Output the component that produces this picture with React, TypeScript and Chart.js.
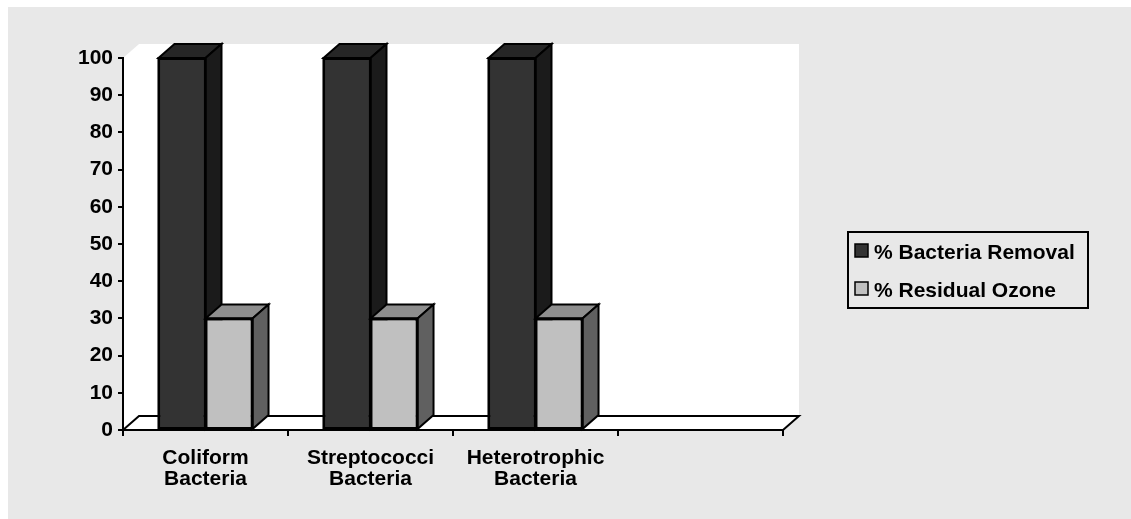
import React, { useEffect, useRef } from 'react';
import { Chart, registerables } from 'chart.js';

Chart.register(...registerables);

const categories: (string | string[])[] = [
  ['Coliform', 'Bacteria'],
  ['Streptococci', 'Bacteria'],
  ['Heterotrophic', 'Bacteria'],
  '',
];
const seriesNames = ['% Bacteria Removal', '% Residual Ozone'];
const bacteriaRemoval = [100, 100, 100, null];
const residualOzone = [30, 30, 30, null];
const yTicks = [0, 10, 20, 30, 40, 50, 60, 70, 80, 90, 100];

const FONT = "'Liberation Sans', Arial, Helvetica, sans-serif";
const DX = 16;
const DY = 14;
const BG = '#e8e8e8';
const faces = [
  { front: '#333333', top: '#262626', side: '#1b1b1b' },
  { front: '#c0c0c0', top: '#8e8e8e', side: '#606060' },
];

function poly(ctx: CanvasRenderingContext2D, pts: number[][]) {
  ctx.beginPath();
  ctx.moveTo(pts[0][0], pts[0][1]);
  for (let i = 1; i < pts.length; i++) ctx.lineTo(pts[i][0], pts[i][1]);
  ctx.closePath();
}

const threeD = {
  id: 'threeD',
  beforeDraw(chart: any) {
    const { ctx, chartArea: a, width, height } = chart;
    ctx.save();
    ctx.fillStyle = BG;
    ctx.fillRect(0, 0, width, height);
    ctx.fillStyle = '#ffffff';
    // back wall
    ctx.fillRect(a.left + DX, a.top - DY, a.right - a.left, a.bottom - a.top);
    // side wall
    poly(ctx, [
      [a.left, a.top],
      [a.left + DX, a.top - DY],
      [a.left + DX, a.bottom - DY],
      [a.left, a.bottom],
    ]);
    ctx.fill();
    // floor
    poly(ctx, [
      [a.left, a.bottom],
      [a.left + DX, a.bottom - DY],
      [a.right + DX, a.bottom - DY],
      [a.right, a.bottom],
    ]);
    ctx.fill();
    ctx.strokeStyle = '#000';
    ctx.lineWidth = 2;
    ctx.lineJoin = 'miter';
    ctx.stroke();
    ctx.restore();
  },
  afterDatasetsDraw(chart: any) {
    const { ctx } = chart;
    ctx.save();
    chart.data.datasets.forEach((ds: any, di: number) => {
      const meta = chart.getDatasetMeta(di);
      meta.data.forEach((el: any, i: number) => {
        if (ds.data[i] == null) return;
        const { x, y, base, width } = el.getProps(['x', 'y', 'base', 'width'], true);
        const l = x - width / 2;
        const r = x + width / 2;
        el.draw(ctx);
        ctx.lineWidth = 2;
        ctx.strokeStyle = '#000';
        ctx.lineJoin = 'miter';
        // top
        poly(ctx, [
          [l, y],
          [l + DX, y - DY],
          [r + DX, y - DY],
          [r, y],
        ]);
        ctx.fillStyle = faces[di].top;
        ctx.fill();
        ctx.stroke();
        // side
        poly(ctx, [
          [r, y],
          [r + DX, y - DY],
          [r + DX, base - DY],
          [r, base],
        ]);
        ctx.fillStyle = faces[di].side;
        ctx.fill();
        ctx.stroke();
        // front outline
        ctx.strokeRect(l, y, width, base - y);
      });
    });
    ctx.restore();
  },
  afterDraw(chart: any) {
    const { ctx } = chart;
    ctx.save();
    ctx.strokeStyle = '#000';
    ctx.lineWidth = 2;
    ctx.strokeRect(840, 225, 240, 76);
    ctx.font = `bold 21px ${FONT}`;
    ctx.textBaseline = 'alphabetic';
    ctx.textAlign = 'left';
    chart.data.datasets.forEach((ds: any, i: number) => {
      const cy = 244 + i * 38;
      ctx.fillStyle = faces[i].front;
      ctx.fillRect(847, cy - 7, 13, 13);
      ctx.lineWidth = 1.5;
      ctx.strokeStyle = '#000';
      ctx.strokeRect(847, cy - 7, 13, 13);
      ctx.fillStyle = '#000';
      ctx.fillText(ds.label, 866, cy + 8);
    });
    ctx.restore();
  },
};

export default function App() {
  const ref = useRef<HTMLCanvasElement | null>(null);
  useEffect(() => {
    if (!ref.current) return;
    const chart = new Chart(ref.current, {
      type: 'bar',
      data: {
        labels: categories,
        datasets: [
          {
            label: seriesNames[0],
            data: bacteriaRemoval,
            backgroundColor: faces[0].front,
            borderColor: '#000',
            borderWidth: 2,
            borderSkipped: false,
          },
          {
            label: seriesNames[1],
            data: residualOzone,
            backgroundColor: faces[1].front,
            borderColor: '#000',
            borderWidth: 2,
            borderSkipped: false,
          },
        ],
      } as any,
      options: {
        animation: false,
        responsive: true,
        maintainAspectRatio: false,
        devicePixelRatio: 1,
        layout: { padding: { top: 51, right: 348, left: 0, bottom: 0 } },
        datasets: { bar: { categoryPercentage: 0.57, barPercentage: 1 } },
        plugins: { legend: { display: false }, tooltip: { enabled: false } },
        scales: {
          x: {
            offset: true,
            grid: {
              offset: true,
              drawOnChartArea: false,
              drawTicks: true,
              tickLength: 6,
              color: '#000',
              lineWidth: 2,
            },
            border: { display: true, color: '#000', width: 2 },
            ticks: {
              color: '#000',
              font: { family: FONT, size: 21, weight: 'bold', lineHeight: 1 },
              padding: 12,
              maxRotation: 0,
              minRotation: 0,
              autoSkip: false,
            },
            afterFit: (s: any) => {
              s.height = 89;
            },
          },
          y: {
            min: 0,
            max: 100,
            grid: {
              drawOnChartArea: false,
              drawTicks: true,
              tickLength: 5,
              color: '#000',
              lineWidth: 2,
            },
            border: { display: true, color: '#000', width: 2 },
            ticks: {
              color: '#000',
              font: { family: FONT, size: 21, weight: 'bold' },
              padding: 5,
            },
            afterBuildTicks: (s: any) => {
              s.ticks = yTicks.map((v) => ({ value: v }));
            },
            afterFit: (s: any) => {
              s.width = 115;
            },
          },
        },
      } as any,
      plugins: [threeD],
    });
    return () => chart.destroy();
  }, []);
  return (
    <div style={{ position: 'fixed', left: 8, top: 7, width: 1123, height: 512 }}>
      <canvas ref={ref} />
    </div>
  );
}
